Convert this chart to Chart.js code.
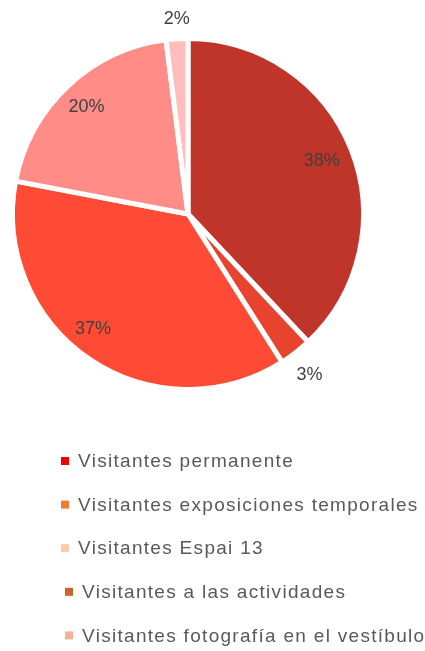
<!DOCTYPE html>
<html>
<head>
<meta charset="utf-8">
<script src="https://cdn.jsdelivr.net/npm/chart.js@4"></script>
<style>
  html, body { margin: 0; padding: 0; background: #fff; }
  #wrap { width: 425px; height: 651px; }
</style>
</head>
<body>
<div id="wrap"><canvas id="mycanvas"></canvas></div>
<script>
// slice data, clockwise from the top
var sliceLabels = ['Permanente', 'Actividades', 'Temporales', 'Espai 13', 'Vestíbulo'];
var sliceValues = [38, 3, 37, 20, 2];
var sliceColors = ['#C0352A', '#E8432F', '#FF4A35', '#FF8C86', '#FFBDBD'];

// legend entries (as shown under the pie)
var legendLabels = [
  'Visitantes permanente',
  'Visitantes exposiciones temporales',
  'Visitantes Espai 13',
  'Visitantes a las actividades',
  'Visitantes fotografía en el vestíbulo'
];
var legendColors = ['#F00000', '#ED7D31', '#F8CBAD', '#CD6427', '#F4B093'];

var pctLabels = {
  id: 'pctLabels',
  afterDatasetsDraw: function(chart) {
    var ctx = chart.ctx;
    var meta = chart.getDatasetMeta(0);
    // small hand nudges so labels sit where the original put them
    var nudge = [[0, 0], [1, 6], [-14, -4], [-3, -2], [1, 1]];
    ctx.save();
    ctx.font = '18px "Liberation Sans", Arial, sans-serif';
    ctx.fillStyle = '#404040';
    ctx.textAlign = 'center';
    ctx.textBaseline = 'middle';
    meta.data.forEach(function(arc, i) {
      var mid = (arc.startAngle + arc.endAngle) / 2;
      var r = arc.outerRadius;
      var f = sliceValues[i] < 5 ? 1.12 : 0.82;
      var x = arc.x + Math.cos(mid) * r * f + nudge[i][0];
      var y = arc.y + Math.sin(mid) * r * f + nudge[i][1];
      ctx.fillText(sliceValues[i] + '%', x, y);
    });
    ctx.restore();
  }
};

var sideLegend = {
  id: 'sideLegend',
  afterDraw: function(chart) {
    var ctx = chart.ctx;
    var xs = [61, 61, 61, 65, 65];
    ctx.save();
    ctx.font = '19px "Liberation Sans", Arial, sans-serif';
    ctx.letterSpacing = '1.3px';
    ctx.textBaseline = 'middle';
    for (var i = 0; i < legendLabels.length; i++) {
      var y = 461 + i * 43.6;
      ctx.fillStyle = legendColors[i];
      ctx.fillRect(xs[i], y - 4, 8, 8);
      ctx.fillStyle = '#595959';
      ctx.fillText(legendLabels[i], xs[i] + 17, y + 1);
    }
    ctx.restore();
  }
};

var chartdata = {
  labels: sliceLabels,
  datasets: [{
    data: sliceValues,
    backgroundColor: sliceColors,
    borderColor: '#ffffff',
    borderWidth: 5
  }]
};

new Chart(document.getElementById('mycanvas'), {
  type: 'pie',
  data: chartdata,
  options: {
    responsive: true,
    maintainAspectRatio: false,
    animation: false,
    layout: { padding: { left: 10, right: 59, top: 36, bottom: 259 } },
    plugins: {
      legend: { display: false },
      tooltip: { enabled: false }
    }
  },
  plugins: [pctLabels, sideLegend]
});
</script>
</body>
</html>
